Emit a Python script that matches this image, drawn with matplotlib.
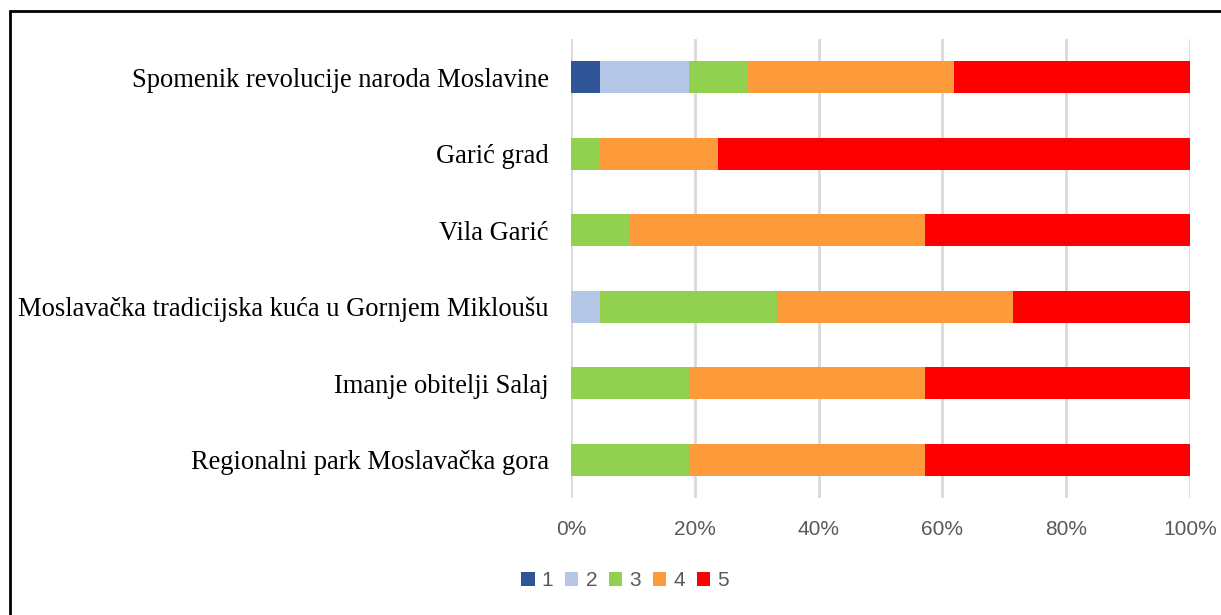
import matplotlib
matplotlib.use("Agg")
import matplotlib.pyplot as plt
import numpy as np
from matplotlib.patches import Rectangle

categories = [
    "Spomenik revolucije naroda Moslavine",
    "Garić grad",
    "Vila Garić",
    "Moslavačka tradicijska kuća u Gornjem Mikloušu",
    "Imanje obitelji Salaj",
    "Regionalni park Moslavačka gora",
]
series_names = ["1", "2", "3", "4", "5"]
s1 = [1, 0, 0, 0, 0, 0]
s2 = [3, 0, 0, 1, 0, 0]
s3 = [2, 1, 2, 6, 4, 4]
s4 = [7, 4, 10, 8, 8, 8]
s5 = [8, 16, 9, 6, 9, 9]
colors = ["#2F5597", "#B4C7E7", "#92D050", "#FD9B3B", "#FF0000"]
xticks = [0, 20, 40, 60, 80, 100]
xtick_labels = ["0%", "20%", "40%", "60%", "80%", "100%"]

data = np.array([s1, s2, s3, s4, s5], dtype=float)
pct = data / data.sum(axis=0) * 100

fig = plt.figure(figsize=(12.21, 6.15), dpi=100)
ax = fig.add_axes([571/1221, 1-498/615, (1190-571)/1221, (498-39)/615])

y = np.arange(len(categories))
left = np.zeros(len(categories))
for i, name in enumerate(series_names):
    ax.barh(y, pct[i], left=left, height=0.42, color=colors[i], label=name, zorder=3)
    left += pct[i]

ax.set_ylim(len(categories) - 0.5, -0.5)
ax.set_xlim(0, 100)
ax.set_xticks(xticks)
ax.set_xticklabels(xtick_labels, fontfamily="Liberation Sans", fontsize=15, color="#595959")
ax.set_yticks(y)
ax.set_yticklabels(categories, fontfamily="Liberation Serif", fontsize=19.1, color="black")
ax.tick_params(axis="both", length=0)
ax.tick_params(axis="x", pad=16)
ax.tick_params(axis="y", pad=16)
ax.grid(axis="x", color="#D9D9D9", linewidth=2, zorder=0)
for sp in ax.spines.values():
    sp.set_visible(False)

leg = fig.legend(loc="center", bbox_to_anchor=(625/1221, 1-581/615), ncol=5, frameon=False,
                 prop={"family": "Liberation Sans", "size": 15}, handlelength=0.65, handleheight=0.65,
                 handletextpad=0.35, columnspacing=0.55, labelcolor="#595959")

# outer frame (left and top edges)
fig.patches.append(Rectangle((10/1221, -0.1), 1.2, 1-10.5/615 + 0.1, transform=fig.transFigure,
                             fill=False, edgecolor="black", linewidth=2))

fig.savefig("out.png", dpi=100)
